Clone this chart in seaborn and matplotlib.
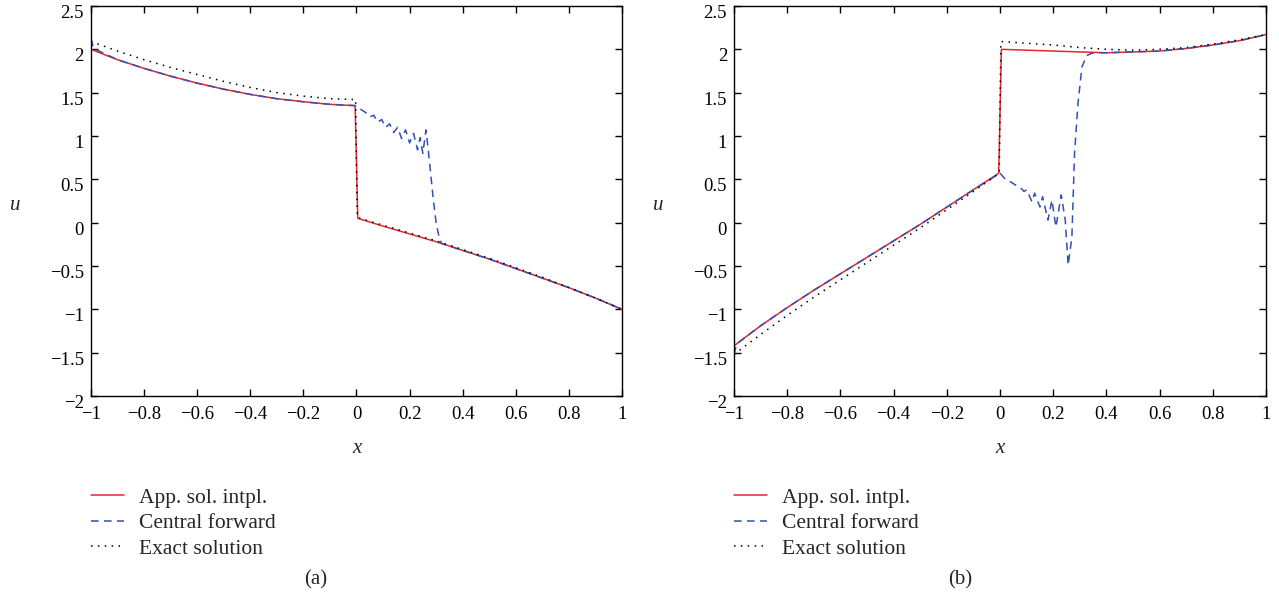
import matplotlib
matplotlib.use("Agg")
import matplotlib.pyplot as plt
import matplotlib.transforms as mtransforms
import pandas as pd
import seaborn as sns

# ---- panel (a) ----
a_app_x = [-1, -0.9, -0.8, -0.7, -0.6, -0.5, -0.4, -0.3, -0.2, -0.1, -0.005,
           0.005, 0.1, 0.2, 0.3, 0.4, 0.5, 0.6, 0.7, 0.8, 0.9, 1.0]
a_app_u = [2.00, 1.88, 1.78, 1.69, 1.61, 1.54, 1.48, 1.43, 1.395, 1.365, 1.35,
           0.05, -0.04, -0.13, -0.22, -0.32, -0.42, -0.53, -0.64, -0.75, -0.87, -1.00]

a_cf_x = [-1, -0.99, -0.9, -0.8, -0.7, -0.6, -0.5, -0.4, -0.3, -0.2, -0.1, 0.0,
          0.02, 0.035, 0.05, 0.065, 0.08, 0.095, 0.11, 0.125, 0.14, 0.155, 0.17,
          0.185, 0.20, 0.215, 0.23, 0.24, 0.25, 0.262, 0.27, 0.28, 0.29, 0.30,
          0.31, 0.32, 0.4, 0.5, 0.6, 0.7, 0.8, 0.9, 1.0]
a_cf_u = [2.12, 2.01, 1.88, 1.78, 1.69, 1.61, 1.54, 1.48, 1.43, 1.395, 1.365, 1.35,
          1.30, 1.27, 1.22, 1.24, 1.16, 1.19, 1.10, 1.14, 1.04, 1.10, 0.97,
          1.07, 0.92, 1.03, 0.84, 0.98, 0.80, 1.07, 0.85, 0.55, 0.25, 0.00,
          -0.15, -0.24, -0.32, -0.42, -0.53, -0.64, -0.75, -0.87, -1.00]

a_ex_x = [-1, -0.9, -0.8, -0.7, -0.6, -0.5, -0.4, -0.3, -0.2, -0.1, -0.003,
          0.003, 0.1, 0.2, 0.3, 0.4, 0.5, 0.6, 0.7, 0.8, 0.9, 1.0]
a_ex_u = [2.09, 1.98, 1.88, 1.79, 1.71, 1.63, 1.56, 1.50, 1.46, 1.43, 1.42,
          0.06, -0.03, -0.12, -0.21, -0.31, -0.41, -0.52, -0.63, -0.75, -0.87, -1.00]

# ---- panel (b) ----
b_app_x = [-1, -0.9, -0.8, -0.7, -0.6, -0.5, -0.4, -0.3, -0.2, -0.1, -0.005,
           0.005, 0.1, 0.2, 0.3, 0.4, 0.5, 0.6, 0.7, 0.8, 0.9, 1.0]
b_app_u = [-1.42, -1.19, -0.98, -0.78, -0.59, -0.40, -0.21, -0.02, 0.18, 0.38, 0.57,
           2.00, 1.99, 1.98, 1.97, 1.96, 1.97, 1.98, 2.01, 2.05, 2.10, 2.17]

b_cf_x = [-1, -0.99, -0.9, -0.8, -0.7, -0.6, -0.5, -0.4, -0.3, -0.2, -0.1, 0.0,
          0.02, 0.04, 0.06, 0.075, 0.09, 0.10, 0.12, 0.13, 0.15, 0.16, 0.18,
          0.195, 0.21, 0.23, 0.245, 0.256, 0.27, 0.28, 0.293, 0.308, 0.327, 0.35,
          0.4, 0.5, 0.6, 0.7, 0.8, 0.9, 1.0]
b_cf_u = [-1.52, -1.40, -1.19, -0.98, -0.78, -0.59, -0.40, -0.21, -0.02, 0.18, 0.38, 0.57,
          0.50, 0.47, 0.43, 0.41, 0.36, 0.38, 0.24, 0.34, 0.18, 0.30, 0.03,
          0.26, -0.05, 0.32, 0.03, -0.49, -0.17, 0.80, 1.38, 1.80, 1.93, 1.96,
          1.96, 1.97, 1.98, 2.01, 2.05, 2.10, 2.17]

b_ex_x = [-1, -0.9, -0.8, -0.7, -0.6, -0.5, -0.4, -0.3, -0.2, -0.1, -0.003,
          0.003, 0.1, 0.2, 0.3, 0.4, 0.5, 0.6, 0.7, 0.8, 0.9, 1.0]
b_ex_u = [-1.52, -1.29, -1.07, -0.86, -0.66, -0.46, -0.26, -0.06, 0.15, 0.36, 0.57,
          2.09, 2.07, 2.05, 2.02, 2.00, 1.99, 2.00, 2.02, 2.06, 2.11, 2.17]

labels = ["App. sol. intpl.", "Central forward", "Exact solution"]
panel_names = ["(a)", "(b)"]
x_ticks = [-1, -0.8, -0.6, -0.4, -0.2, 0, 0.2, 0.4, 0.6, 0.8, 1]
x_ticklabels = ["\u22121", "\u22120.8", "\u22120.6", "\u22120.4", "\u22120.2",
                "0", "0.2", "0.4", "0.6", "0.8", "1"]
y_ticks = [-2, -1.5, -1, -0.5, 0, 0.5, 1, 1.5, 2, 2.5]
y_ticklabels = ["\u22122", "\u22121.5", "\u22121", "\u22120.5", "0",
                "0.5", "1", "1.5", "2", "2.5"]

sns.set_theme(style="ticks")
plt.rcParams["font.family"] = ["Liberation Serif", "DejaVu Serif"]

fig = plt.figure(figsize=(12.79, 6.05), dpi=100)
axes = [fig.add_axes([0.0711, 0.3455, 0.4152, 0.6446]),
        fig.add_axes([0.5739, 0.3455, 0.4160, 0.6446])]

panels = [
    (a_app_x, a_app_u, a_cf_x, a_cf_u, a_ex_x, a_ex_u),
    (b_app_x, b_app_u, b_cf_x, b_cf_u, b_ex_x, b_ex_u),
]

# y tick labels sit slightly below their ticks in the reference
shift_down = mtransforms.ScaledTranslation(0, -4 / 72, fig.dpi_scale_trans)

for ax, (ap_x, ap_u, cf_x, cf_u, ex_x, ex_u), name, fx in zip(axes, panels, panel_names, [0.247, 0.7506]):
    app = pd.DataFrame({"x": ap_x, "u": ap_u})
    cf = pd.DataFrame({"x": cf_x, "u": cf_u})
    ex = pd.DataFrame({"x": ex_x, "u": ex_u})

    sns.lineplot(data=app, x="x", y="u", ax=ax, color="#e8262c", lw=1.1,
                 sort=False, estimator=None, label=labels[0])
    sns.lineplot(data=cf, x="x", y="u", ax=ax, color="#3450b2", lw=1.1,
                 sort=False, estimator=None, label=labels[1])
    ax.lines[-1].set_dashes((5, 3.5))
    sns.lineplot(data=ex, x="x", y="u", ax=ax, color="black", lw=1.1,
                 sort=False, estimator=None, label=labels[2])
    ax.lines[-1].set_dashes((1, 3.5))

    ax.set_xlim(-1, 1)
    ax.set_ylim(-2, 2.5)
    ax.set_xticks(x_ticks)
    ax.set_xticklabels(x_ticklabels)
    ax.set_yticks(y_ticks)
    ax.set_yticklabels(y_ticklabels)
    ax.tick_params(direction="in", top=True, right=True, length=5, width=1,
                   labelsize=13.5, color="black", labelcolor="black")
    ax.tick_params(axis="x", pad=7.5)
    ax.tick_params(axis="y", pad=5)
    for lab in ax.get_yticklabels():
        lab.set_transform(lab.get_transform() + shift_down)
    for sp in ax.spines.values():
        sp.set_visible(True)
        sp.set_color("black")
        sp.set_linewidth(1.0)

    ax.set_xlabel("x", fontsize=15, style="italic")
    ax.xaxis.set_label_coords(0.5, -0.11)
    ax.set_ylabel("u", fontsize=15, style="italic", rotation=0, va="center", ha="center")
    ax.yaxis.set_label_coords(-0.143, 0.488)

    ax.legend(loc="upper left", bbox_to_anchor=(0.0, -0.235), frameon=False,
              fontsize=15.5, handlelength=1.55, handletextpad=0.7,
              labelspacing=0.25, borderpad=0, borderaxespad=0)

    fig.text(fx, 0.041, name, fontsize=15, ha="center", va="center")

fig.savefig("out.png", dpi=100)
